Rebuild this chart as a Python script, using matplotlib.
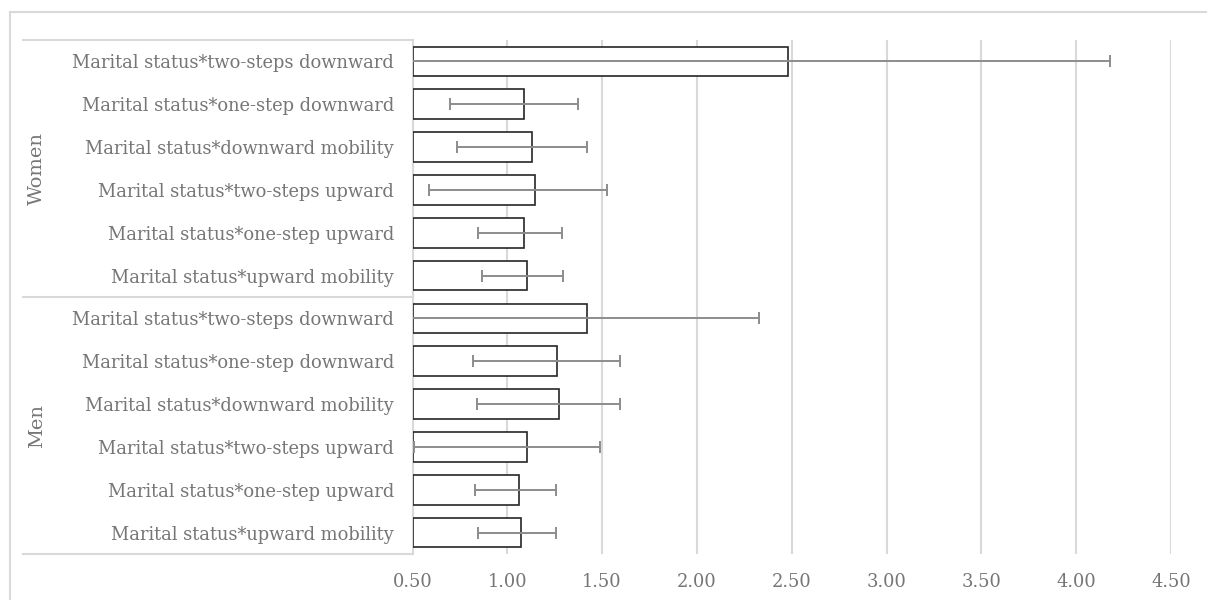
import matplotlib
matplotlib.use("Agg")
import matplotlib.pyplot as plt
import matplotlib.transforms as mtransforms
from matplotlib.lines import Line2D
import numpy as np

# odds ratios with lower / upper bounds (top to bottom)
labels = [
    "Marital status*two-steps downward",
    "Marital status*one-step downward",
    "Marital status*downward mobility",
    "Marital status*two-steps upward",
    "Marital status*one-step upward",
    "Marital status*upward mobility",
]
groups = ["Women", "Men"]

women_or = [2.48, 1.087, 1.129, 1.148, 1.090, 1.103]
women_lo = [0.40, 0.698, 0.736, 0.585, 0.844, 0.868]
women_hi = [4.18, 1.372, 1.421, 1.525, 1.289, 1.294]

men_or = [1.419, 1.264, 1.271, 1.103, 1.064, 1.071]
men_lo = [0.40, 0.821, 0.840, 0.510, 0.830, 0.846]
men_hi = [2.325, 1.593, 1.593, 1.488, 1.257, 1.257]

xticks = [0.5, 1.0, 1.5, 2.0, 2.5, 3.0, 3.5, 4.0, 4.5]

txt_color = "#767676"
line_gray = "#d9d9d9"
plt.rcParams['font.family'] = ['DejaVu Serif']

values = np.array(women_or + men_or)
lo = np.array(women_lo + men_lo)
hi = np.array(women_hi + men_hi)
ylabels = labels + labels
ypos = np.arange(len(values))
base = xticks[0]

fig = plt.figure(figsize=(12.07, 6.0), dpi=100)
ax = fig.add_axes([412.5 / 1207, 1 - 554 / 600, 758.5 / 1207, 514 / 600])

ax.barh(ypos, values - base, left=base, height=0.69, color="white",
        edgecolor="#262626", linewidth=1.2, zorder=3)
ax.errorbar(values, ypos, xerr=[values - lo, hi - values], fmt="none",
            ecolor="#8c8c8c", elinewidth=1.4, capsize=4, capthick=1.4, zorder=4)

ax.set_xlim(base, xticks[-1])
ax.set_ylim(len(values) - 0.5, -0.5)
ax.set_xticks(xticks)
ax.set_xticklabels([f"{t:.2f}" for t in xticks])
ax.set_yticks(ypos)
ax.set_yticklabels(ylabels)
ax.tick_params(axis="both", length=0, labelsize=12.9, labelcolor=txt_color)
ax.tick_params(axis="y", pad=13.5)
ax.tick_params(axis="x", pad=14)

ax.grid(axis="x", color=line_gray, linewidth=1.5, zorder=0)
for s in ["top", "right", "bottom"]:
    ax.spines[s].set_visible(False)
ax.spines["left"].set_color(line_gray)
ax.spines["left"].set_linewidth(1.5)

# hierarchical category axis: separators and group labels
trans = mtransforms.blended_transform_factory(fig.transFigure, ax.transData)
x_left = 23 / 1207
x_axis = 412.5 / 1207
n = len(labels)
for b in [-0.5, n - 0.5, 2 * n - 0.5]:
    fig.add_artist(Line2D([x_left, x_axis], [b, b], transform=trans,
                          color=line_gray, linewidth=1.5))
for i, g in enumerate(groups):
    mid = i * n + (n - 1) / 2
    fig.text(37 / 1207, mid, g, transform=trans, rotation=90, ha="center",
             va="center", fontsize=14, color=txt_color)

# chart border (only top and left visible)
fig.add_artist(Line2D([10 / 1207, 1.0], [1 - 12 / 600, 1 - 12 / 600],
                      transform=fig.transFigure, color=line_gray, linewidth=1.5))
fig.add_artist(Line2D([10 / 1207, 10 / 1207], [1 - 12 / 600, 0.0],
                      transform=fig.transFigure, color=line_gray, linewidth=1.5))

fig.savefig("out.png", dpi=100)
